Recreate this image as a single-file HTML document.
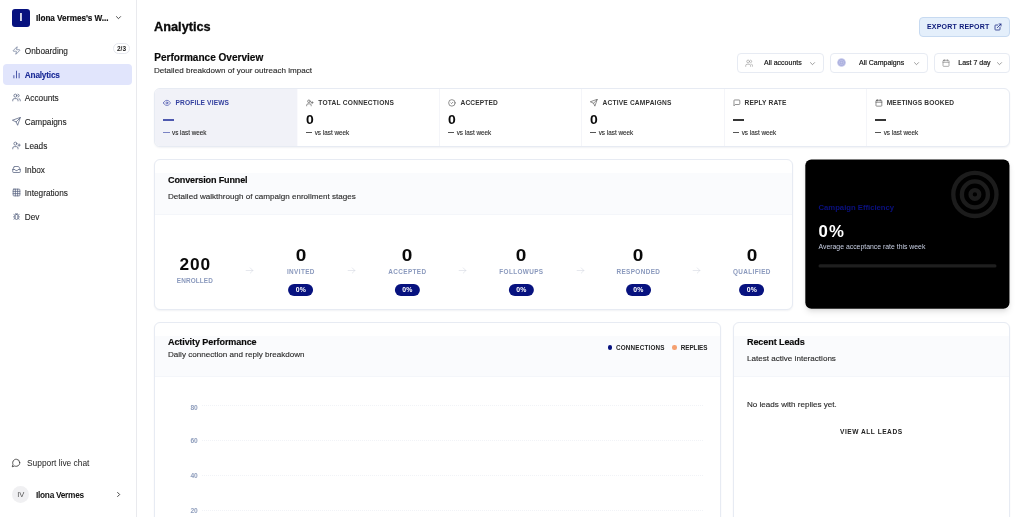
<!DOCTYPE html>
<html lang="en">
<head>
<meta charset="utf-8">
<title>Analytics</title>
<style>
*{box-sizing:border-box;margin:0;padding:0}
html,body{width:1024px;height:517px;overflow:hidden;background:#fff;color:#0a0a0a;
  font-family:"Liberation Sans",sans-serif;}
svg{display:block}
.abs{position:absolute}
#side{position:absolute;left:0;top:0;width:137px;height:517px;border-right:1px solid #e9eaee;background:#fff}
.ws{position:absolute;left:12px;top:9px;width:18px;height:17.5px;border-radius:3px;background:#07127f;color:#fff;
  font-size:10.5px;font-weight:700;text-align:center;line-height:17.5px}
.wsname{position:absolute;left:36px;top:13.7px;font-size:8.2px;font-weight:700;color:#111;letter-spacing:-0.05px;white-space:nowrap;-webkit-text-stroke:.15px #111}
.nav{position:absolute;left:3px;width:129px;height:21px;border-radius:4px;font-size:8.25px;color:#1c1c1c;white-space:nowrap}
.nav span{position:absolute;left:21.8px;top:6.9px;-webkit-text-stroke:.1px currentColor}
.nav svg{position:absolute;left:8.7px;top:5.8px;width:9px;height:9px;stroke:#56627f;fill:none;stroke-width:2;stroke-linecap:round;stroke-linejoin:round}
.nav.act{background:#e1e5fc;color:#1a2a96;font-weight:700;letter-spacing:-0.2px}
.nav.act svg{stroke:#1a2a8f}
.badge{position:absolute;left:113px;top:43px;width:17px;height:11px;border:1px solid #e5e7ee;border-radius:6px;font-size:6.5px;font-weight:700;text-align:center;line-height:9.5px;color:#222}
#main{position:absolute;left:138px;top:0;width:886px;height:517px;background:#fff}
h1{position:absolute;left:154px;top:19.4px;font-size:12.75px;font-weight:700;letter-spacing:0;color:#0a0a0a;white-space:nowrap;-webkit-text-stroke:.3px #0a0a0a}
h2{position:absolute;left:154.3px;top:52px;font-size:10.05px;font-weight:700;color:#0a0a0a;white-space:nowrap;-webkit-text-stroke:.18px #0a0a0a}
.sub{position:absolute;font-size:8.08px;color:#2a2a2a;white-space:nowrap;-webkit-text-stroke:.12px #2a2a2a}
.card{position:absolute;background:#fff;border:1px solid #e7ebf3;border-radius:6px;box-shadow:0 1px 2px rgba(20,30,80,.06);overflow:hidden}
.chead{position:absolute;left:0;right:0;background:#fafbfd;border-bottom:1px solid #f4f6fa}
.ctitle{position:absolute;font-size:9.05px;font-weight:700;color:#0a0a0a;white-space:nowrap;letter-spacing:-0.1px;-webkit-text-stroke:.15px #0a0a0a}
.btn{position:absolute;border:1px solid #e7ebf3;border-radius:4px;background:#fff;height:20px;font-size:7px;font-weight:700;color:#222;white-space:nowrap}
.btn.fl{font-weight:400;font-size:7px;color:#111;-webkit-text-stroke:.17px #111}
.stat{position:absolute;top:0;height:58px;border-right:1px solid #f4f5f9}
.stat .lb{position:absolute;left:20.5px;top:10px;font-size:6.6px;font-weight:700;letter-spacing:.15px;color:#333;white-space:nowrap}
.stat .ic{position:absolute;left:8.4px;top:10.1px;width:7.8px;height:7.8px;stroke:#555;fill:none;stroke-width:2;stroke-linecap:round;stroke-linejoin:round}
.stat .val{position:absolute;left:7.6px;top:23.8px;font-size:12px;font-weight:700;color:#0a0a0a;line-height:14px;transform:scaleX(1.16);transform-origin:0 50%}
.stat .dash{position:absolute;left:8px;top:30px;width:11px;height:2px;background:#0a0a0a;opacity:.82}
.stat .vs{position:absolute;left:7.8px;top:40.4px;font-size:6.35px;color:#2a2a2a;white-space:nowrap;-webkit-text-stroke:.1px #2a2a2a}
.stat .vs i{display:inline-block;width:6.6px;height:1px;background:#555;vertical-align:middle;margin-right:2.3px;position:relative;top:-.9px}
.fn{position:absolute;text-align:center;transform:translateX(-50%);white-space:nowrap}
.fn .n{font-size:17.3px;font-weight:700;color:#0a0a0a;line-height:19px}
.fn .n.z{transform:scaleX(1.1)}
.fn .l{font-size:6.4px;font-weight:700;letter-spacing:.38px;color:#8a99bd;margin-top:3.8px}
.fn .p{display:inline-block;margin-top:9.2px;width:25px;height:11.6px;border-radius:6px;background:#07127f;color:#fff;font-size:6.9px;font-weight:700;line-height:11.6px;letter-spacing:.2px}
.arr{position:absolute;top:265.5px;width:9px;height:9px;stroke:#d5d9e3;fill:none;stroke-width:1.6;stroke-linecap:round;stroke-linejoin:round}
.yl{position:absolute;left:190.4px;font-size:6.6px;font-weight:700;color:#8e9dbc}
.gl{position:absolute;left:202px;width:501px;height:0;border-top:1px dotted #f1f3f7}
</style>
</head>
<body>
<div id="side">
  <div class="ws">I</div>
  <div class="wsname">Ilona Vermes's W...</div>
  <svg class="abs" style="left:115px;top:14.4px;width:7px;height:7px;stroke:#222;fill:none;stroke-width:2.8;stroke-linecap:round;stroke-linejoin:round" viewBox="0 0 24 24"><path d="M5 9l7 7 7-7"/></svg>

  <div class="nav" style="top:40px"><svg viewBox="0 0 24 24" style="stroke:#6a7896;stroke-width:1.9"><path d="M4 14a1 1 0 0 1-.78-1.63l9.9-10.2a.5.5 0 0 1 .86.46l-1.92 6.02A1 1 0 0 0 13 10h7a1 1 0 0 1 .78 1.63l-9.9 10.2a.5.5 0 0 1-.86-.46l1.92-6.02A1 1 0 0 0 11 14z"/></svg><span>Onboarding</span></div>
  <div class="badge">2/3</div>
  <div class="nav act" style="top:64px"><svg viewBox="0 0 24 24"><path d="M5 21v-6M12 21V3M19 21V9"/></svg><span>Analytics</span></div>
  <div class="nav" style="top:87.5px"><svg viewBox="0 0 24 24"><circle cx="9" cy="7" r="4"/><path d="M2 21v-2a4 4 0 014-4h6a4 4 0 014 4v2M16 3.1a4 4 0 010 7.8M22 21v-2a4 4 0 00-3-3.9"/></svg><span>Accounts</span></div>
  <div class="nav" style="top:111px"><svg viewBox="0 0 24 24"><path d="M22 2L11 13M22 2l-7 20-4-9-9-4z"/></svg><span>Campaigns</span></div>
  <div class="nav" style="top:135px"><svg viewBox="0 0 24 24"><circle cx="9" cy="7" r="4"/><path d="M2 21v-2a4 4 0 014-4h6a4 4 0 014 4v2M19 8v6M22 11h-6"/></svg><span>Leads</span></div>
  <div class="nav" style="top:159.4px"><svg viewBox="0 0 24 24"><path d="M22 12h-6l-2 3h-4l-2-3H2"/><path d="M5.5 5.1L2 12v6a2 2 0 002 2h16a2 2 0 002-2v-6l-3.5-6.9A2 2 0 0016.8 4H7.2a2 2 0 00-1.7 1.1z"/></svg><span>Inbox</span></div>
  <div class="nav" style="top:182.5px"><svg viewBox="0 0 24 24"><rect x="3" y="3" width="18" height="18" rx="2"/><path d="M3 9h18M3 15h18M9 3v18M15 3v18"/></svg><span>Integrations</span></div>
  <div class="nav" style="top:206px"><svg viewBox="0 0 24 24"><rect x="8" y="6" width="8" height="14" rx="4"/><path d="M19 7l-3 2M5 7l3 2M19 19l-3-2M5 19l3-2M20 13h-4M4 13h4M10 4l1 2M14 4l-1 2"/></svg><span>Dev</span></div>

  <svg class="abs" style="left:11px;top:458px;width:10px;height:10px;stroke:#333;fill:none;stroke-width:2;stroke-linecap:round;stroke-linejoin:round" viewBox="0 0 24 24"><path d="M21 11.5a8.4 8.4 0 01-.9 3.8 8.5 8.5 0 01-7.6 4.7 8.4 8.4 0 01-3.8-.9L3 21l1.9-5.7a8.4 8.4 0 01-.9-3.8 8.5 8.5 0 014.7-7.6 8.4 8.4 0 013.8-.9h.5a8.5 8.5 0 018 8z"/></svg>
  <div class="abs" style="left:27px;top:458px;font-size:8.4px;color:#222;white-space:nowrap">Support live chat</div>
  <div class="abs" style="left:12.3px;top:486px;width:17px;height:17px;border-radius:50%;background:#f0f0f2;font-size:7.6px;color:#555;text-align:center;line-height:17px">IV</div>
  <div class="abs" style="left:36px;top:490px;font-size:8.3px;font-weight:700;color:#111;white-space:nowrap;letter-spacing:-0.28px">Ilona Vermes</div>
  <svg class="abs" style="left:115px;top:491px;width:7px;height:7px;stroke:#222;fill:none;stroke-width:2.9;stroke-linecap:round;stroke-linejoin:round" viewBox="0 0 24 24"><path d="M9 5l7 7-7 7"/></svg>
</div>

<h1>Analytics</h1>
<h2>Performance Overview</h2>
<div class="sub" style="left:154px;top:66px">Detailed breakdown of your outreach impact</div>

<!-- export -->
<div class="btn" style="left:919px;top:17px;width:91px;height:20px;background:#e4effb;border-color:#c7daf1;color:#0c1a7a;letter-spacing:.2px;font-size:7px;line-height:18px;padding-left:7px">EXPORT REPORT
  <svg class="abs" style="left:73.8px;top:5px;width:8px;height:8px;stroke:#0c1a7a;fill:none;stroke-width:2.2;stroke-linecap:round;stroke-linejoin:round" viewBox="0 0 24 24"><path d="M18 13v6a2 2 0 01-2 2H5a2 2 0 01-2-2V8a2 2 0 012-2h6M15 3h6v6M10 14L21 3"/></svg>
</div>

<!-- filters -->
<div class="btn fl" style="left:737px;top:53px;width:87px;line-height:18px">
  <svg class="abs" style="left:6.6px;top:4.8px;width:8.4px;height:8.4px;stroke:#909090;fill:none;stroke-width:1.7;stroke-linecap:round;stroke-linejoin:round" viewBox="0 0 24 24"><circle cx="9" cy="7" r="4"/><path d="M2 21v-2a4 4 0 014-4h6a4 4 0 014 4v2M16 3.1a4 4 0 010 7.8M22 21v-2a4 4 0 00-3-3.9"/></svg>
  <span class="abs" style="left:26px;top:0">All accounts</span>
  <svg class="abs" style="left:71px;top:5.7px;width:7px;height:7px;stroke:#666;fill:none;stroke-width:2.2;stroke-linecap:round;stroke-linejoin:round" viewBox="0 0 24 24"><path d="M5 9l7 7 7-7"/></svg>
</div>
<div class="btn fl" style="left:830px;top:53px;width:98px;line-height:18px">
  <svg class="abs" style="left:6.2px;top:4.3px;width:9px;height:9px" viewBox="0 0 24 24"><circle cx="12" cy="12" r="11.5" fill="#c2c5ea"/><circle cx="12" cy="12" r="8" fill="none" stroke="#a3a7d8" stroke-width="2.2"/><circle cx="12" cy="12" r="3.6" fill="none" stroke="#a3a7d8" stroke-width="2.2"/></svg>
  <span class="abs" style="left:28px;top:0">All Campaigns</span>
  <svg class="abs" style="left:82px;top:5.7px;width:7px;height:7px;stroke:#666;fill:none;stroke-width:2.2;stroke-linecap:round;stroke-linejoin:round" viewBox="0 0 24 24"><path d="M5 9l7 7 7-7"/></svg>
</div>
<div class="btn fl" style="left:934px;top:53px;width:76px;line-height:18px">
  <svg class="abs" style="left:7px;top:5px;width:8px;height:8px;stroke:#777;fill:none;stroke-width:1.8;stroke-linecap:round;stroke-linejoin:round" viewBox="0 0 24 24"><rect x="3" y="4" width="18" height="18" rx="2"/><path d="M16 2v4M8 2v4M3 10h18"/></svg>
  <span class="abs" style="left:23.3px;top:0">Last 7 day</span>
  <svg class="abs" style="left:60.5px;top:5.7px;width:7px;height:7px;stroke:#666;fill:none;stroke-width:2.2;stroke-linecap:round;stroke-linejoin:round" viewBox="0 0 24 24"><path d="M5 9l7 7 7-7"/></svg>
</div>

<!-- stats -->
<div class="card" style="left:154px;top:88px;width:856px;height:59px;border-radius:6px">
  <div class="stat" style="left:0;width:143px;background:#f1f2f8;border-right-color:#fafafd;background-clip:padding-box">
    <svg class="ic" style="stroke:#3a46a8" viewBox="0 0 24 24"><path d="M1 12s4-8 11-8 11 8 11 8-4 8-11 8S1 12 1 12z"/><circle cx="12" cy="12" r="3"/></svg>
    <div class="lb" style="color:#33409f">PROFILE VIEWS</div>
    <div class="dash" style="background:#2a379f"></div>
    <div class="vs"><i style="background:#7a83c4;width:6.9px"></i>vs last week</div>
  </div>
  <div class="stat" style="left:143px;width:142px">
    <svg class="ic" viewBox="0 0 24 24"><circle cx="9" cy="7" r="4"/><path d="M2 21v-2a4 4 0 014-4h6a4 4 0 014 4v2M19 8v6M22 11h-6"/></svg>
    <div class="lb" style="letter-spacing:.24px;left:20.3px">TOTAL CONNECTIONS</div><div class="val">0</div><div class="vs"><i></i>vs last week</div>
  </div>
  <div class="stat" style="left:285px;width:142px">
    <svg class="ic" viewBox="0 0 24 24"><circle cx="12" cy="12" r="10"/><path d="M9 12l2 2 4-4"/></svg>
    <div class="lb">ACCEPTED</div><div class="val">0</div><div class="vs"><i></i>vs last week</div>
  </div>
  <div class="stat" style="left:427px;width:143px">
    <svg class="ic" viewBox="0 0 24 24"><path d="M22 2L11 13M22 2l-7 20-4-9-9-4z"/></svg>
    <div class="lb" style="letter-spacing:.2px">ACTIVE CAMPAIGNS</div><div class="val">0</div><div class="vs"><i></i>vs last week</div>
  </div>
  <div class="stat" style="left:570px;width:142px">
    <svg class="ic" viewBox="0 0 24 24"><path d="M21 15a2 2 0 01-2 2H7l-4 4V5a2 2 0 012-2h14a2 2 0 012 2z"/></svg>
    <div class="lb" style="left:19.5px">REPLY RATE</div><div class="dash"></div><div class="vs"><i></i>vs last week</div>
  </div>
  <div class="stat" style="left:712px;width:143px;border-right:0">
    <svg class="ic" viewBox="0 0 24 24"><rect x="3" y="4" width="18" height="18" rx="2"/><path d="M16 2v4M8 2v4M3 10h18"/></svg>
    <div class="lb" style="left:19.7px">MEETINGS BOOKED</div><div class="dash"></div><div class="vs"><i></i>vs last week</div>
  </div>
</div>

<!-- funnel -->
<div class="card" style="left:154px;top:159px;width:639px;height:151px">
  <div class="chead" style="top:13px;height:42px"></div>
</div>
<div class="ctitle" style="left:168px;top:174.8px;letter-spacing:-.15px">Conversion Funnel</div>
<div class="sub" style="left:168px;top:191.7px">Detailed walkthrough of campaign enrollment stages</div>

<div class="fn" style="left:194.9px;top:255.3px"><div class="n" style="letter-spacing:.9px;margin-left:.9px">200</div><div class="l" style="letter-spacing:.12px;margin-top:3.2px">ENROLLED</div></div>
<div class="fn" style="left:300.9px;top:245.5px"><div class="n z">0</div><div class="l">INVITED</div><div class="p">0%</div></div>
<div class="fn" style="left:407.4px;top:245.5px"><div class="n z">0</div><div class="l">ACCEPTED</div><div class="p">0%</div></div>
<div class="fn" style="left:521.4px;top:245.5px"><div class="n z">0</div><div class="l">FOLLOWUPS</div><div class="p">0%</div></div>
<div class="fn" style="left:638.4px;top:245.5px"><div class="n z">0</div><div class="l">RESPONDED</div><div class="p">0%</div></div>
<div class="fn" style="left:751.9px;top:245.5px"><div class="n z">0</div><div class="l">QUALIFIED</div><div class="p">0%</div></div>
<svg class="arr" style="left:245px" viewBox="0 0 24 24"><path d="M3 12h18M14 5l7 7-7 7"/></svg>
<svg class="arr" style="left:347px" viewBox="0 0 24 24"><path d="M3 12h18M14 5l7 7-7 7"/></svg>
<svg class="arr" style="left:458px" viewBox="0 0 24 24"><path d="M3 12h18M14 5l7 7-7 7"/></svg>
<svg class="arr" style="left:576px" viewBox="0 0 24 24"><path d="M3 12h18M14 5l7 7-7 7"/></svg>
<svg class="arr" style="left:692px" viewBox="0 0 24 24"><path d="M3 12h18M14 5l7 7-7 7"/></svg>

<!-- efficiency -->
<div class="abs" style="left:805px;top:159px;width:205px;height:150px;border-radius:6px;box-shadow:0 4px 6px -1px rgba(0,0,0,.10),0 2px 4px -2px rgba(0,0,0,.10)"></div>
<svg class="abs" style="left:800px;top:155px;width:224px;height:160px" viewBox="800 155 224 160">
  <rect x="805.3" y="159.4" width="204.2" height="149.3" rx="6" fill="#000"/>
  <g fill="none" stroke="#1c1c1c" stroke-width="4.33"><circle cx="974.9" cy="194.4" r="21.6"/><circle cx="974.9" cy="194.4" r="13"/><circle cx="974.9" cy="194.4" r="4.33"/></g>
  <rect x="818.5" y="264.3" width="178" height="3.2" rx="1.6" fill="#1f1f1f"/>
</svg>
<div class="abs" style="left:818.5px;top:203px;font-size:7.7px;font-weight:700;color:#0a1080;white-space:nowrap">Campaign Efficiency</div>
<div class="abs" style="left:818.5px;top:222.5px;font-size:16.8px;font-weight:700;color:#fff;line-height:18px;letter-spacing:1.2px">0%</div>
<div class="abs" style="left:818.5px;top:243.2px;font-size:6.88px;color:#c9d0e4;white-space:nowrap">Average acceptance rate this week</div>

<!-- activity -->
<div class="card" style="left:154px;top:322px;width:567px;height:220px">
  <div class="chead" style="top:13px;height:41px"></div>
</div>
<div class="ctitle" style="left:168px;top:337.2px">Activity Performance</div>
<div class="sub" style="left:168px;top:349.5px">Daily connection and reply breakdown</div>
<div class="abs" style="left:607.7px;top:345px;width:4.5px;height:4.5px;border-radius:50%;background:#07127f"></div>
<div class="abs" style="left:616px;top:343.5px;font-size:6.3px;font-weight:700;color:#222;letter-spacing:.2px">CONNECTIONS</div>
<div class="abs" style="left:672.4px;top:345px;width:4.5px;height:4.5px;border-radius:50%;background:#f5a070"></div>
<div class="abs" style="left:680.8px;top:343.5px;font-size:6.3px;font-weight:700;color:#222;letter-spacing:-.05px">REPLIES</div>
<div class="yl" style="top:403.8px">80</div><div class="gl" style="top:405px"></div>
<div class="yl" style="top:436.6px">60</div><div class="gl" style="top:440px"></div>
<div class="yl" style="top:471.7px">40</div><div class="gl" style="top:475px"></div>
<div class="yl" style="top:506.6px">20</div><div class="gl" style="top:510px"></div>

<!-- leads -->
<div class="card" style="left:733px;top:322px;width:277px;height:220px">
  <div class="chead" style="top:13px;height:41px"></div>
</div>
<div class="ctitle" style="left:747px;top:337.2px">Recent Leads</div>
<div class="sub" style="left:747px;top:353.5px">Latest active interactions</div>
<div class="sub" style="left:747px;top:399.5px">No leads with replies yet.</div>
<div class="abs" style="left:840px;top:428.3px;font-size:6.6px;font-weight:700;letter-spacing:.52px;color:#222;white-space:nowrap">VIEW ALL LEADS</div>
</body>
</html>
